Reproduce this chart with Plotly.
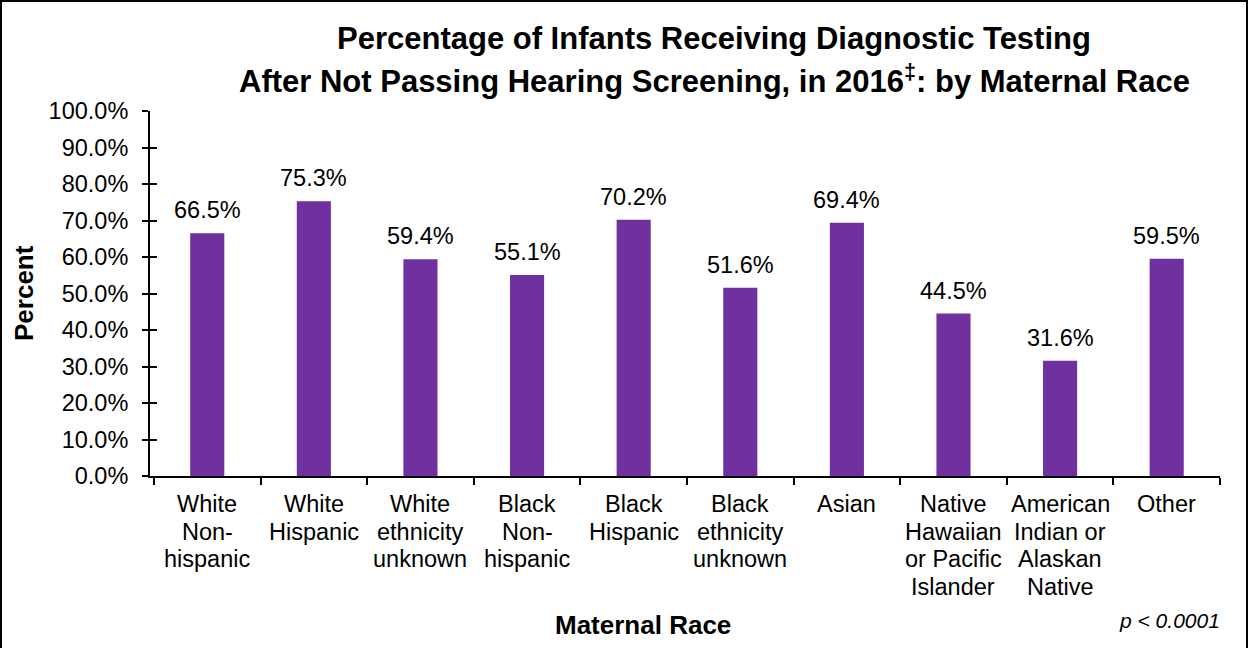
import plotly.graph_objects as go

categories = [
    "White<br>Non-<br>hispanic",
    "White<br>Hispanic",
    "White<br>ethnicity<br>unknown",
    "Black<br>Non-<br>hispanic",
    "Black<br>Hispanic",
    "Black<br>ethnicity<br>unknown",
    "Asian",
    "Native<br>Hawaiian<br>or Pacific<br>Islander",
    "American<br>Indian or<br>Alaskan<br>Native",
    "Other",
]
percents = [66.5, 75.3, 59.4, 55.1, 70.2, 51.6, 69.4, 44.5, 31.6, 59.5]
y_ticks = [0, 10, 20, 30, 40, 50, 60, 70, 80, 90, 100]
title_lines = [
    "Percentage of Infants Receiving Diagnostic Testing",
    "After Not Passing Hearing Screening, in 2016<sup>‡</sup>: by Maternal Race",
]

W, H = 1248, 648
ML, MR, MT, MB = 150, 28, 111, 172
pw, ph = W - ML - MR, H - MT - MB
FONT = "Liberation Sans, Arial, sans-serif"
PURPLE = "#7030A0"


def px_x(p):
    return (p - ML) / pw


def px_y(p):
    return 1 - (p - MT) / ph


fig = go.Figure()
fig.add_trace(go.Bar(x=categories, y=percents, marker_color=PURPLE,
                     marker_line_width=0, showlegend=False, hoverinfo="skip"))

# value labels above the bars
for c, v in zip(categories, percents):
    fig.add_annotation(x=c, y=v, text=f"{v:.1f}%", showarrow=False,
                       yanchor="bottom", yshift=8,
                       font=dict(size=23.5, color="black", family=FONT))

# category labels, one annotation per line for tighter line spacing
for c in categories:
    for i, line in enumerate(c.split("<br>")):
        fig.add_annotation(x=c, y=px_y(504 + i * 27.7), yref="paper",
                           text=line, showarrow=False, yanchor="middle",
                           font=dict(size=23.5, color="black", family=FONT))

fig.update_layout(
    width=W, height=H,
    margin=dict(l=ML, r=MR, t=MT, b=MB),
    paper_bgcolor="white", plot_bgcolor="white",
    bargap=0.68,
    font=dict(family=FONT, size=23.5, color="black"),
    xaxis=dict(
        type="category", tickson="boundaries", ticks="outside", ticklen=7,
        tickwidth=2, tickcolor="black", showline=True, linecolor="black",
        linewidth=2, showgrid=False, showticklabels=False,
    ),
    yaxis=dict(
        range=[0, 100], tickvals=y_ticks,
        ticktext=[f"{t:.1f}%" for t in y_ticks],
        ticks="outside", ticklen=6, tickwidth=2, tickcolor="black",
        showline=True, linecolor="black", linewidth=2, showgrid=False,
        zeroline=False, tickfont=dict(size=23.5), ticklabelstandoff=9,
    ),
    yaxis2=dict(
        range=[0, 100], tickvals=y_ticks, overlaying="y", side="left",
        ticks="inside", ticklen=7, tickwidth=2, tickcolor="black",
        showticklabels=False, showgrid=False, zeroline=False, showline=False,
    ),
)

# invisible trace to activate yaxis2 for the crossing ticks
fig.add_trace(go.Scatter(x=[categories[0]], y=[0], yaxis="y2", mode="markers",
                         marker=dict(opacity=0), showlegend=False, hoverinfo="skip"))

for i, line in enumerate(title_lines):
    fig.add_annotation(
        x=px_x(714), y=px_y(39 + i * 40), xref="paper", yref="paper",
        showarrow=False, text=f"<b>{line}</b>", xanchor="center", yanchor="middle",
        font=dict(size=31, family=FONT, color="black"),
    )
fig.add_annotation(
    x=px_x(24), y=px_y(293), xref="paper", yref="paper", showarrow=False,
    xanchor="center", yanchor="middle",
    text="<b>Percent</b>", textangle=-90, font=dict(size=26, family=FONT),
)
fig.add_annotation(
    x=px_x(643), y=px_y(625), xref="paper", yref="paper", showarrow=False,
    xanchor="center", yanchor="middle",
    text="<b>Maternal Race</b>", font=dict(size=26, family=FONT),
)
fig.add_annotation(
    x=px_x(1222), y=px_y(620), xref="paper", yref="paper", showarrow=False,
    xanchor="right", yanchor="middle",
    text="<i>p &lt; 0.0001</i>", font=dict(size=21, family=FONT),
)

# outer border of the figure
fig.add_shape(type="rect", xref="paper", yref="paper",
              x0=px_x(1), x1=px_x(W - 1), y0=px_y(H + 2), y1=px_y(1),
              line=dict(color="black", width=2), layer="above")

fig.write_html("out.html", config={"displayModeBar": False},
               post_script="document.body.style.margin='0';")
